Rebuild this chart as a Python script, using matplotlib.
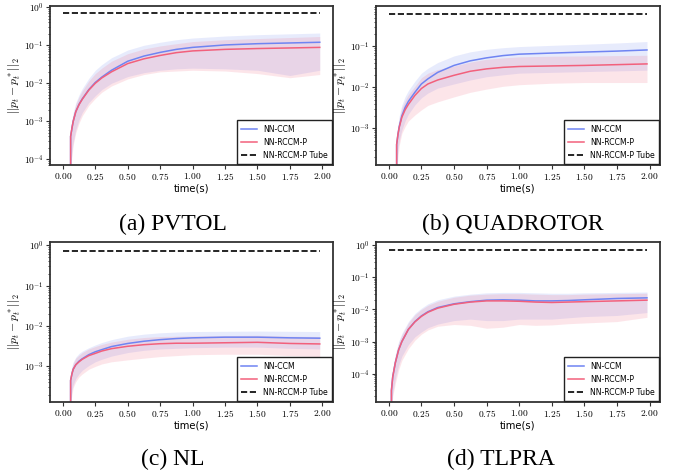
import numpy as np
import matplotlib
matplotlib.use("Agg")
import matplotlib.pyplot as plt
from matplotlib.ticker import FuncFormatter, NullFormatter

plt.rcParams['mathtext.fontset'] = 'cm'
plt.rcParams['font.family'] = 'DejaVu Sans'

# time grids (first point repeated so the curve drops off the log axis)
t_abc = [0.06, 0.06, 0.07, 0.08, 0.1, 0.125, 0.15, 0.2, 0.25, 0.3, 0.375, 0.5,
         0.625, 0.75, 0.875, 1.0, 1.25, 1.5, 1.75, 1.98]
t_d = [0.02, 0.02, 0.03, 0.05, 0.075, 0.1, 0.15, 0.2, 0.25, 0.3, 0.375, 0.5,
       0.625, 0.75, 0.875, 1.0, 1.125, 1.25, 1.375, 1.5, 1.75, 1.98]

# (a) PVTOL
ccm_a = [1e-9, 4e-4, 6.5e-4, 1e-3, 1.8e-3, 2.8e-3, 3.9e-3, 6.8e-3, 1.05e-2, 1.45e-2, 2.2e-2,
         3.8e-2, 5.2e-2, 6.5e-2, 7.8e-2, 8.8e-2, 1.02e-1, 1.1e-1, 1.15e-1, 1.2e-1]
ccm_hi_a = [1e-9, 7e-4, 1.1e-3, 1.7e-3, 3.1e-3, 5e-3, 7.3e-3, 1.35e-2, 2.2e-2, 3.1e-2, 4.7e-2,
            7.5e-2, 1e-1, 1.2e-1, 1.4e-1, 1.55e-1, 1.75e-1, 1.9e-1, 2e-1, 2.1e-1]
ccm_lo_a = [1e-9, 6e-5, 1.5e-4, 2.8e-4, 6e-4, 1.1e-3, 1.7e-3, 3.1e-3, 4.7e-3, 6.8e-3, 1e-2,
            1.5e-2, 1.9e-2, 2.2e-2, 2.4e-2, 2.5e-2, 2.4e-2, 2.2e-2, 1.6e-2, 2.2e-2]
rccm_a = [1e-9, 4e-4, 6.5e-4, 1e-3, 1.8e-3, 2.75e-3, 3.8e-3, 6.6e-3, 1e-2, 1.38e-2, 2e-2,
          3.3e-2, 4.4e-2, 5.4e-2, 6.4e-2, 7.1e-2, 7.8e-2, 8.2e-2, 8.5e-2, 8.8e-2]
rccm_hi_a = [1e-9, 6.5e-4, 1e-3, 1.5e-3, 2.8e-3, 4.4e-3, 6.3e-3, 1.15e-2, 1.8e-2, 2.5e-2, 3.8e-2,
             6e-2, 8e-2, 9.6e-2, 1.1e-1, 1.25e-1, 1.4e-1, 1.5e-1, 1.6e-1, 1.7e-1]
rccm_lo_a = [1e-9, 5e-5, 1.2e-4, 2.4e-4, 5e-4, 9e-4, 1.4e-3, 2.6e-3, 4e-3, 5.8e-3, 8.5e-3,
             1.3e-2, 1.7e-2, 2e-2, 2.1e-2, 2.2e-2, 2.1e-2, 1.8e-2, 1.4e-2, 1.7e-2]

# (b) QUADROTOR
ccm_b = [1e-9, 4e-4, 7e-4, 1.1e-3, 2e-3, 3.2e-3, 4.5e-3, 7.5e-3, 1.2e-2, 1.6e-2, 2.3e-2,
         3.4e-2, 4.4e-2, 5.2e-2, 5.9e-2, 6.4e-2, 6.8e-2, 7.2e-2, 7.6e-2, 8.1e-2]
ccm_hi_b = [1e-9, 7e-4, 1.2e-3, 2e-3, 3.7e-3, 5.9e-3, 8.3e-3, 1.4e-2, 2.2e-2, 2.9e-2, 4e-2,
            5.8e-2, 7.3e-2, 8.4e-2, 9.2e-2, 9.8e-2, 1.05e-1, 1.12e-1, 1.2e-1, 1.3e-1]
ccm_lo_b = [1e-9, 1.5e-4, 3e-4, 5e-4, 9e-4, 1.5e-3, 2.2e-3, 3.7e-3, 5.5e-3, 7.2e-3, 9.5e-3,
            1.2e-2, 1.5e-2, 1.8e-2, 2e-2, 2.2e-2, 2.3e-2, 2.4e-2, 2.5e-2, 2.6e-2]
rccm_b = [1e-9, 4e-4, 7e-4, 1.05e-3, 1.85e-3, 2.8e-3, 3.8e-3, 6.3e-3, 9.3e-3, 1.2e-2, 1.5e-2,
          1.95e-2, 2.45e-2, 2.8e-2, 3.05e-2, 3.2e-2, 3.3e-2, 3.4e-2, 3.55e-2, 3.7e-2]
rccm_hi_b = [1e-9, 6e-4, 1e-3, 1.7e-3, 3.1e-3, 4.7e-3, 6.6e-3, 1.05e-2, 1.7e-2, 2.2e-2, 2.7e-2,
             3.3e-2, 4.1e-2, 4.8e-2, 5.2e-2, 5.5e-2, 5.7e-2, 5.8e-2, 5.9e-2, 6e-2]
rccm_lo_b = [1e-9, 8e-5, 2e-4, 3.8e-4, 7.5e-4, 1.1e-3, 1.5e-3, 2.1e-3, 2.8e-3, 3.6e-3, 4.4e-3,
             5.8e-3, 7.5e-3, 9e-3, 1.05e-2, 1.15e-2, 1.25e-2, 1.3e-2, 1.3e-2, 1.3e-2]

# (c) NL
ccm_c = [1e-9, 4.5e-4, 6.5e-4, 8.5e-4, 1.1e-3, 1.35e-3, 1.55e-3, 1.95e-3, 2.3e-3, 2.6e-3, 3.1e-3,
         3.7e-3, 4.2e-3, 4.6e-3, 4.9e-3, 5.1e-3, 5.3e-3, 5.3e-3, 5.1e-3, 5e-3]
ccm_hi_c = [1e-9, 7e-4, 1e-3, 1.3e-3, 1.7e-3, 2.1e-3, 2.4e-3, 2.9e-3, 3.4e-3, 3.9e-3, 4.6e-3,
            5.6e-3, 6.3e-3, 6.8e-3, 7.1e-3, 7.3e-3, 7.4e-3, 7.5e-3, 7.4e-3, 7.3e-3]
ccm_lo_c = [1e-9, 1.5e-4, 2.5e-4, 3.5e-4, 5e-4, 6.5e-4, 8e-4, 1.05e-3, 1.3e-3, 1.5e-3, 1.8e-3,
            2.2e-3, 2.5e-3, 2.7e-3, 2.8e-3, 2.9e-3, 3e-3, 3e-3, 2.8e-3, 2.7e-3]
rccm_c = [1e-9, 4.5e-4, 6.5e-4, 8.5e-4, 1.1e-3, 1.3e-3, 1.5e-3, 1.85e-3, 2.1e-3, 2.4e-3, 2.75e-3,
          3.15e-3, 3.45e-3, 3.65e-3, 3.75e-3, 3.75e-3, 3.85e-3, 3.95e-3, 3.7e-3, 3.6e-3]
rccm_hi_c = [1e-9, 6.5e-4, 9e-4, 1.2e-3, 1.6e-3, 1.9e-3, 2.2e-3, 2.7e-3, 3.1e-3, 3.5e-3, 4e-3,
             4.7e-3, 5.2e-3, 5.5e-3, 5.6e-3, 5.7e-3, 5.8e-3, 5.9e-3, 5.6e-3, 5.5e-3]
rccm_lo_c = [1e-9, 1.2e-4, 2e-4, 3e-4, 4.2e-4, 5.5e-4, 6.5e-4, 8.5e-4, 1e-3, 1.15e-3, 1.3e-3,
             1.45e-3, 1.6e-3, 1.75e-3, 1.85e-3, 1.95e-3, 2e-3, 2e-3, 1.85e-3, 1.75e-3]

# (d) TLPRA
ccm_d = [1e-9, 3e-5, 8e-5, 2.2e-4, 5.5e-4, 1e-3, 2.4e-3, 4.2e-3, 6.3e-3, 8.5e-3, 1.15e-2, 1.5e-2,
         1.75e-2, 1.95e-2, 2e-2, 1.95e-2, 1.85e-2, 1.85e-2, 1.9e-2, 2e-2, 2.2e-2, 2.3e-2]
ccm_hi_d = [1e-9, 6e-5, 1.5e-4, 4e-4, 1e-3, 1.8e-3, 4.2e-3, 7.5e-3, 1.1e-2, 1.5e-2, 2e-2, 2.6e-2,
            3e-2, 3.3e-2, 3.4e-2, 3.4e-2, 3.3e-2, 3.2e-2, 3.2e-2, 3.3e-2, 3.4e-2, 3.5e-2]
ccm_lo_d = [1e-9, 1e-5, 2.5e-5, 7e-5, 1.8e-4, 3.5e-4, 8e-4, 1.4e-3, 2e-3, 2.7e-3, 3.5e-3, 4.5e-3,
            5e-3, 4.5e-3, 4.5e-3, 5e-3, 5e-3, 5e-3, 5.5e-3, 6e-3, 6.5e-3, 8e-3]
rccm_d = [1e-9, 3e-5, 8e-5, 2.2e-4, 5.5e-4, 1e-3, 2.4e-3, 4.1e-3, 6.1e-3, 8.2e-3, 1.1e-2, 1.45e-2,
          1.7e-2, 1.85e-2, 1.85e-2, 1.8e-2, 1.7e-2, 1.65e-2, 1.7e-2, 1.75e-2, 1.85e-2, 1.95e-2]
rccm_hi_d = [1e-9, 5.5e-5, 1.4e-4, 3.6e-4, 9e-4, 1.6e-3, 3.8e-3, 6.8e-3, 1e-2, 1.35e-2, 1.8e-2, 2.4e-2,
             2.8e-2, 3e-2, 3.1e-2, 3.1e-2, 3e-2, 2.9e-2, 2.9e-2, 3e-2, 3.1e-2, 3.2e-2]
rccm_lo_d = [1e-9, 7e-6, 2e-5, 5e-5, 1.3e-4, 2.6e-4, 6e-4, 1.1e-3, 1.7e-3, 2.3e-3, 3e-3, 3.4e-3,
             3.2e-3, 2.6e-3, 2.8e-3, 3.4e-3, 3.2e-3, 3.3e-3, 3.6e-3, 3.8e-3, 4.2e-3, 5.7e-3]

tube_x = [0.0, 1.98]
tube_a, tube_b, tube_c, tube_d = 0.7, 0.6, 0.72, 0.7

captions = ["(a) PVTOL", "(b) QUADROTOR", "(c) NL", "(d) TLPRA"]

panels = [
    (t_abc, ccm_a, ccm_lo_a, ccm_hi_a, rccm_a, rccm_lo_a, rccm_hi_a, tube_a, (7e-5, 1.07)),
    (t_abc, ccm_b, ccm_lo_b, ccm_hi_b, rccm_b, rccm_lo_b, rccm_hi_b, tube_b, (1.25e-4, 0.95)),
    (t_abc, ccm_c, ccm_lo_c, ccm_hi_c, rccm_c, rccm_lo_c, rccm_hi_c, tube_c, (1.3e-4, 1.2)),
    (t_d, ccm_d, ccm_lo_d, ccm_hi_d, rccm_d, rccm_lo_d, rccm_hi_d, tube_d, (1.3e-5, 1.25)),
]

# axes rectangles in figure fractions
rects = [
    [0.0734, 0.650, 0.415, 0.337],
    [0.552, 0.650, 0.417, 0.337],
    [0.0734, 0.148, 0.415, 0.339],
    [0.552, 0.148, 0.417, 0.339],
]
caption_pos = [(173, 224), (513, 224), (173, 459), (501, 459)]

blue = '#6f84f2'
red = '#f2607c'

fig = plt.figure(figsize=(6.81, 4.72), dpi=100)

for rect, p in zip(rects, panels):
    t, cm, clo, chi, rm, rlo, rhi, tube, ylim = p
    ax = fig.add_axes(rect)
    ax.fill_between(t, clo, chi, color=blue, alpha=0.16, lw=0)
    ax.fill_between(t, rlo, rhi, color=red, alpha=0.16, lw=0)
    ax.plot(t, cm, color=blue, lw=1.1, label='NN-CCM')
    ax.plot(t, rm, color=red, lw=1.1, label='NN-RCCM-P')
    ax.plot(tube_x, [tube, tube], 'k--', lw=1.2, label='NN-RCCM-P Tube')
    ax.set_yscale('log')
    ax.set_ylim(*ylim)
    ax.set_xticks([0, 0.25, 0.5, 0.75, 1.0, 1.25, 1.5, 1.75, 2.0])
    ax.xaxis.set_major_formatter(FuncFormatter(lambda v, pos: r'$%.2f$' % v))
    ax.yaxis.set_major_formatter(FuncFormatter(lambda v, pos: r'$10^{%d}$' % round(np.log10(v))))
    ax.yaxis.set_minor_formatter(NullFormatter())
    ax.tick_params(labelsize=6.8, length=3, width=0.8, color='#333333', pad=1.5)
    ax.tick_params(which='minor', length=1.5, width=0.5)
    for s in ax.spines.values():
        s.set_color('#333333')
        s.set_linewidth(1.3)
    ax.set_xlabel('time(s)', fontsize=7.2, labelpad=1)
    ax.set_ylabel(r'$||p_t - p_t^*||_2$', fontsize=8.5, labelpad=0.5)
    leg = ax.legend(loc='lower right', fontsize=5.6, fancybox=False, framealpha=1,
                    edgecolor='#222222', borderaxespad=0.1, labelspacing=0.55,
                    handlelength=2.0, borderpad=0.55)
    leg.get_frame().set_linewidth(1.0)

for cap, (x, y) in zip(captions, caption_pos):
    fig.text(x / 681, 1 - y / 472, cap, ha='center', va='center',
             fontsize=17, family='Liberation Serif')

fig.savefig('out.png', dpi=100)
